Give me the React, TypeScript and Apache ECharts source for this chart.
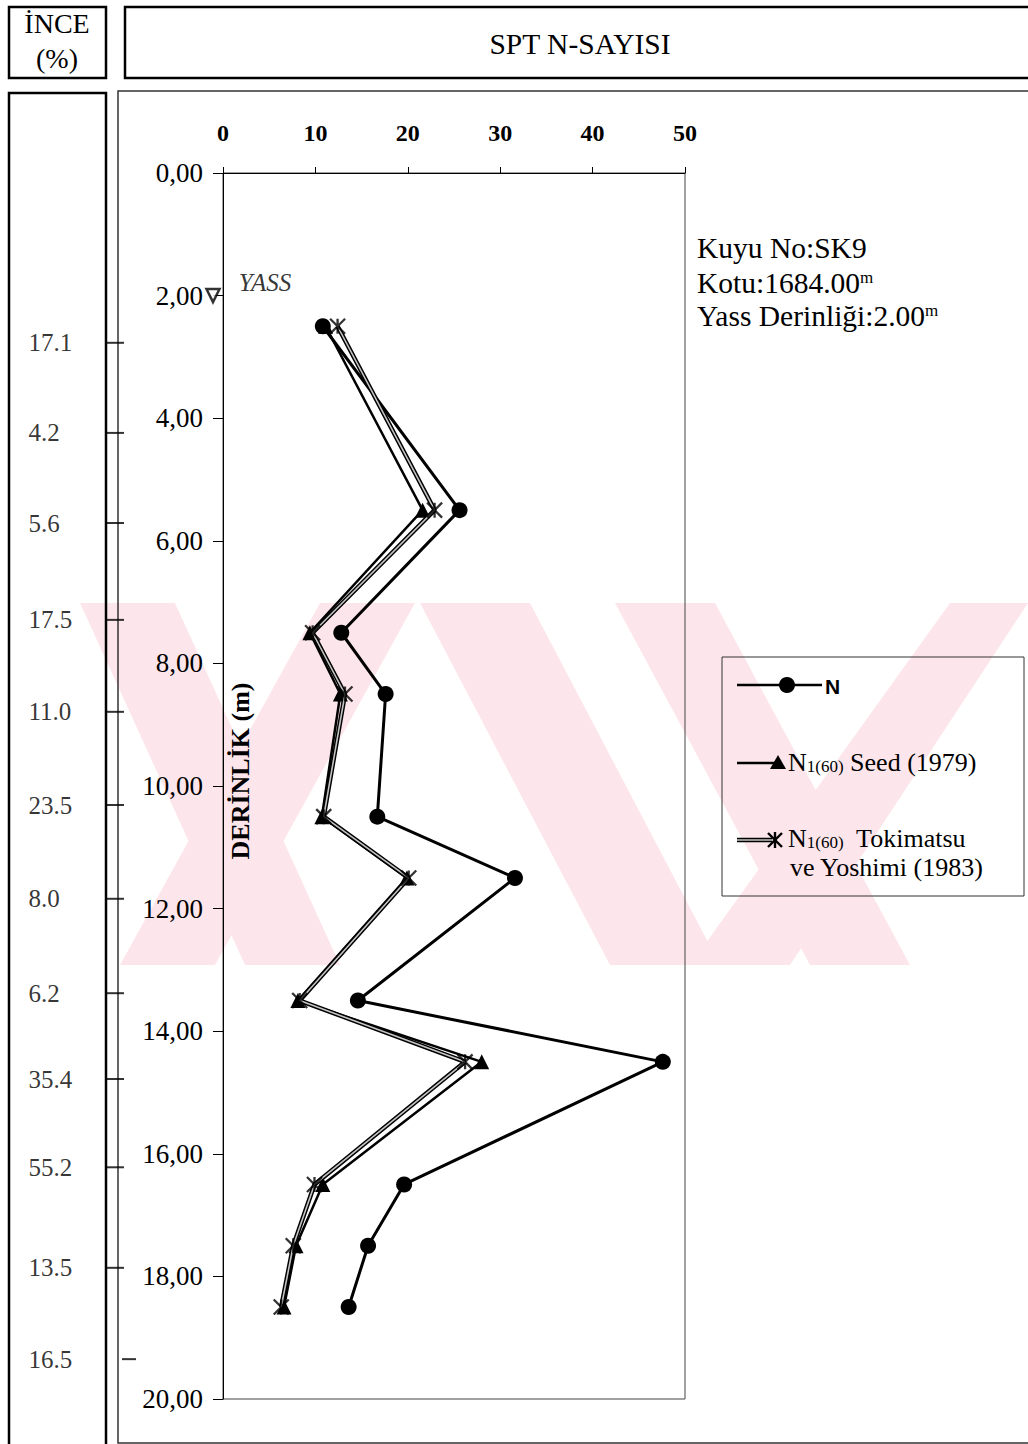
import React, { useEffect, useRef } from "react";
import * as echarts from "echarts";

// ---------- data ----------
const depths = [2.5, 5.5, 7.5, 8.5, 10.5, 11.5, 13.5, 14.5, 16.5, 17.5, 18.5];
const nValues = [10.8, 25.6, 12.8, 17.6, 16.7, 31.6, 14.6, 47.6, 19.6, 15.7, 13.6];
const seedValues = [11.1, 21.6, 9.4, 12.7, 10.7, 19.9, 8.1, 28.0, 10.8, 7.9, 6.6];
const tokiValues = [12.4, 22.9, 9.7, 13.2, 10.9, 20.1, 8.3, 26.2, 9.9, 7.6, 6.3];
const fineValues = ["17.1", "4.2", "5.6", "17.5", "11.0", "23.5", "8.0", "6.2", "35.4", "55.2", "13.5", "16.5"];
const fineDepths = [2.77, 4.24, 5.71, 7.29, 8.79, 10.31, 11.84, 13.38, 14.78, 16.22, 17.86, 19.35];
const waterTableDepth = 2.0;
const xMin = 0, xMax = 50, xStep = 10;
const depthMin = 0, depthMax = 20, depthStep = 2;

const SERIF = "'Liberation Serif', 'Times New Roman', serif";
const SANS = "'Liberation Sans', Arial, sans-serif";
const INK = "#000";
const CROSS = "path://M0 0L10 10M10 0L0 10M5 0L5 10";

const pts = (vals: number[]) => vals.map((v, i) => [v, depths[i]]);

export default function App() {
  const ref = useRef<HTMLDivElement>(null);
  useEffect(() => {
    document.body.style.margin = "0";
    const chart = echarts.init(ref.current!, null, { renderer: "svg" });
    const pink = "#fde6eb";
    const stripe = (x1: number, x2: number, x3: number, x4: number) => ({
      type: "polygon",
      z: -10,
      silent: true,
      shape: { points: [[x1, 603], [x2, 603], [x4, 965], [x3, 965]] },
      style: { fill: pink },
    });
    const sub = { fontSize: 17, fontFamily: SERIF, color: INK, padding: [9, 0, 0, 0] };
    const main = { fontSize: 26, fontFamily: SERIF, color: INK };
    const sup = { fontSize: 17, fontFamily: SERIF, color: INK, padding: [0, 0, 12, 0] };
    const big = { fontSize: 29.5, fontFamily: SERIF, color: INK };

    const option: any = {
      animation: false,
      backgroundColor: "#fff",
      grid: [
        { left: 223, top: 173, width: 462, height: 1226, show: true, borderColor: "#444", borderWidth: 1, backgroundColor: "transparent" },
        { left: 0, top: 173, width: 140, height: 1226, show: false },
      ],
      xAxis: [
        {
          type: "value", gridIndex: 0, position: "top", min: xMin, max: xMax, interval: xStep,
          axisLine: { show: true, lineStyle: { color: INK, width: 1 } },
          axisTick: { show: true, length: 6, lineStyle: { color: INK } },
          axisLabel: { fontSize: 24, fontWeight: "bold", fontFamily: SERIF, color: INK, margin: 28 },
          splitLine: { show: false },
        },
        { type: "value", gridIndex: 1, min: 0, max: 140, show: false },
      ],
      yAxis: [
        {
          type: "value", gridIndex: 0, inverse: true, min: depthMin, max: depthMax, interval: depthStep,
          axisLine: { show: true, lineStyle: { color: INK, width: 1 } },
          axisTick: { show: true, length: 10, lineStyle: { color: INK } },
          axisLabel: {
            fontSize: 27, fontFamily: SERIF, color: INK, margin: 20,
            formatter: (v: number) => v.toFixed(2).replace(".", ","),
          },
          splitLine: { show: false },
        },
        { type: "value", gridIndex: 1, inverse: true, min: depthMin, max: depthMax, show: false },
      ],
      series: [
        {
          name: "N", type: "line", data: pts(nValues), symbol: "circle", symbolSize: 16,
          lineStyle: { color: INK, width: 3 }, itemStyle: { color: INK }, z: 3,
        },
        {
          name: "N1(60) Seed (1979)", type: "line", data: pts(seedValues), symbol: "triangle", symbolSize: 15,
          lineStyle: { color: INK, width: 2.5 }, itemStyle: { color: INK }, z: 3,
        },
        {
          name: "toki-outer", type: "line", data: pts(tokiValues), symbol: "none",
          lineStyle: { color: INK, width: 4.5 }, z: 4,
        },
        {
          name: "toki-inner", type: "line", data: pts(tokiValues), symbol: "none",
          lineStyle: { color: "#c4c4c4", width: 1.6 }, z: 5,
        },
        {
          name: "N1(60) Tokimatsu ve Yoshimi (1983)", type: "scatter", data: pts(tokiValues), symbol: CROSS, symbolSize: 15,
          itemStyle: { color: "none", borderColor: INK, borderWidth: 2.3 }, z: 6,
        },
        {
          name: "YASS", type: "scatter", data: [[xMin, waterTableDepth]], symbol: "triangle", symbolRotate: 180,
          symbolSize: 13, symbolOffset: [-10, 0], clip: false,
          itemStyle: { color: "#fff", borderColor: INK, borderWidth: 2.5 },
          label: { show: true, formatter: "YASS", position: "right", distance: 18, offset: [0, -13], fontStyle: "italic", fontSize: 25, fontFamily: SERIF, color: INK },
          z: 7,
        },
        {
          name: "fines", type: "scatter", xAxisIndex: 1, yAxisIndex: 1,
          data: fineDepths.map((d, i) => ({ name: fineValues[i], value: [28, d] })),
          symbolSize: 1, itemStyle: { color: "transparent" }, silent: true,
          label: { show: true, formatter: "{b}", position: "right", distance: 0, fontSize: 25, fontFamily: SERIF, color: INK },
        },
        {
          name: "fine-ticks", type: "scatter", xAxisIndex: 1, yAxisIndex: 1,
          data: fineDepths.map((d, i) => (i === fineDepths.length - 1 ? { value: [129, d], symbolSize: [14, 2] } : { value: [114.5, d] })),
          symbol: "rect", symbolSize: [19, 2], itemStyle: { color: INK }, silent: true,
        },
      ],
      graphic: [
        // watermark
        stripe(80, 175, 245, 340),
        stripe(320, 415, 120, 215),
        stripe(420, 530, 610, 720),
        stripe(615, 715, 810, 910),
        stripe(950, 1028, 690, 790),
        // header boxes
        { type: "rect", shape: { x: 9, y: 7, width: 97, height: 71 }, style: { fill: "none", stroke: INK, lineWidth: 2.5 } },
        { type: "rect", shape: { x: 125, y: 7, width: 920, height: 71 }, style: { fill: "none", stroke: INK, lineWidth: 2.5 } },
        { type: "rect", shape: { x: 9, y: 93, width: 97, height: 1400 }, style: { fill: "none", stroke: INK, lineWidth: 2.5 } },
        { type: "rect", shape: { x: 118, y: 91, width: 930, height: 1352 }, style: { fill: "none", stroke: "#333", lineWidth: 1.5 } },
        { type: "text", x: 57, y: 23, style: { text: "İNCE", ...big, fontSize: 28, align: "center", verticalAlign: "middle" } },
        { type: "text", x: 57, y: 58, style: { text: "(%)", ...big, fontSize: 28, align: "center", verticalAlign: "middle" } },
        { type: "text", x: 580, y: 44, style: { text: "SPT N-SAYISI", fontSize: 29.5, fontFamily: SERIF, fill: INK, align: "center", verticalAlign: "middle" } },
        // axis title
        { type: "text", x: 240, y: 771, rotation: Math.PI / 2, style: { text: "DERİNLİK (m)", fontSize: 26, fontWeight: "bold", fontFamily: SERIF, fill: INK, align: "center", verticalAlign: "middle" } },
        // well info
        { type: "text", x: 697, y: 248, style: { text: "Kuyu No:SK9", ...big, fill: INK, verticalAlign: "middle" } },
        { type: "text", x: 697, y: 283, style: { text: "{a|Kotu:1684.00}{s|m}", rich: { a: big, s: sup }, verticalAlign: "middle" } },
        { type: "text", x: 697, y: 316, style: { text: "{a|Yass Derinliği:2.00}{s|m}", rich: { a: big, s: sup }, verticalAlign: "middle" } },
        // legend
        { type: "rect", shape: { x: 722, y: 657, width: 302, height: 239 }, style: { fill: "none", stroke: "#333", lineWidth: 1 } },
        { type: "line", shape: { x1: 737, y1: 685, x2: 822, y2: 685 }, style: { stroke: INK, lineWidth: 2.5 } },
        { type: "circle", shape: { cx: 787, cy: 685, r: 8 }, style: { fill: INK } },
        { type: "text", x: 825, y: 686, style: { text: "N", fontSize: 21, fontWeight: "bold", fontFamily: SANS, fill: INK, verticalAlign: "middle" } },
        { type: "line", shape: { x1: 737, y1: 763, x2: 778, y2: 763 }, style: { stroke: INK, lineWidth: 2.5 } },
        { type: "polygon", shape: { points: [[770, 769], [786, 769], [778, 755]] }, style: { fill: INK } },
        { type: "text", x: 788, y: 762, style: { text: "{n|N}{s|1(60)}{n| Seed (1979)}", rich: { n: main, s: sub }, verticalAlign: "middle" } },
        { type: "line", shape: { x1: 737, y1: 840, x2: 772, y2: 840 }, style: { stroke: INK, lineWidth: 4.5 } },
        { type: "line", shape: { x1: 737, y1: 840, x2: 772, y2: 840 }, style: { stroke: "#c4c4c4", lineWidth: 1.6 } },
        { type: "polyline", shape: { points: [[768, 833], [782, 847]] }, style: { stroke: INK, lineWidth: 2.4 } },
        { type: "polyline", shape: { points: [[782, 833], [768, 847]] }, style: { stroke: INK, lineWidth: 2.4 } },
        { type: "polyline", shape: { points: [[775, 832], [775, 848]] }, style: { stroke: INK, lineWidth: 2.4 } },
        { type: "text", x: 788, y: 838, style: { text: "{n|N}{s|1(60)}{n|  Tokimatsu}", rich: { n: main, s: sub }, verticalAlign: "middle" } },
        { type: "text", x: 790, y: 867, style: { text: "ve Yoshimi (1983)", ...main, fill: INK, verticalAlign: "middle" } },
      ],
    };
    chart.setOption(option);
    return () => chart.dispose();
  }, []);
  return <div ref={ref} style={{ width: 1028, height: 1444 }} />;
}
